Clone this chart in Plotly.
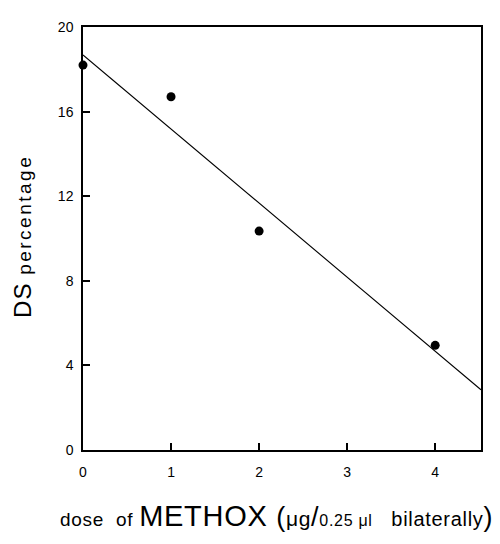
import numpy as np
import plotly.graph_objects as go

# Data
dose = [0, 1, 2, 4]
ds_percentage = [18.2, 16.7, 10.35, 4.95]
x_ticks = [0, 1, 2, 3, 4]
y_ticks = [0, 4, 8, 12, 16, 20]
x_range = [0, 4.52]
y_range = [0, 20]

# Linear regression line through the points
slope, intercept = np.polyfit(dose, ds_percentage, 1)
fit_x = np.array(x_range)
fit_y = intercept + slope * fit_x

FONT = "Liberation Sans, Arial, Helvetica, sans-serif"

fig = go.Figure()
fig.add_trace(go.Scatter(x=fit_x, y=fit_y, mode="lines",
                         line=dict(color="black", width=1.1), showlegend=False))
fig.add_trace(go.Scatter(x=dose, y=ds_percentage, mode="markers",
                         marker=dict(color="black", size=9), showlegend=False, cliponaxis=False))

axis_common = dict(showgrid=False, zeroline=False, showline=True, linecolor="black",
                   linewidth=1.5, mirror=True, ticks="inside", ticklen=7, tickwidth=1.5,
                   tickcolor="black", tickfont=dict(family=FONT, size=14, color="black"))

fig.update_xaxes(range=x_range, tickvals=x_ticks, ticktext=[str(v) for v in x_ticks],
                 ticklabelstandoff=8, **axis_common)
fig.update_yaxes(range=y_range, tickvals=y_ticks, ticktext=[str(v) for v in y_ticks],
                 ticklabelstandoff=5, **axis_common)

LS = "letter-spacing:0.7px;"
xtitle = (f"<span style='font-size:19px;{LS}'>dose&nbsp;&nbsp;of&nbsp;</span>"
          f"<span style='font-size:29px;{LS}'>METHOX&nbsp;</span>"
          f"<span style='font-size:27px;{LS}'>(</span>"
          f"<span style='font-size:21px;{LS}'>μg</span>"
          f"<span style='font-size:27px;{LS}'>/</span>"
          f"<span style='font-size:16px;{LS}'>0.25 μl</span>"
          f"<span style='font-size:20px;{LS}'>&nbsp;&nbsp;&nbsp;bilaterally</span>"
          f"<span style='font-size:27px'>)</span>")
ytitle = ("<span style='font-size:24px;letter-spacing:1px'>DS&nbsp;</span>"
          "<span style='font-size:19px;letter-spacing:2.5px'>percentage</span>")

fig.add_annotation(text=xtitle, xref="paper", yref="paper", x=0.487, y=-0.155,
                   xanchor="center", yanchor="middle", showarrow=False,
                   font=dict(family=FONT, color="black"))
fig.add_annotation(text=ytitle, xref="paper", yref="paper", x=-0.152, y=0.505,
                   xanchor="center", yanchor="middle", textangle=-90, showarrow=False,
                   font=dict(family=FONT, color="black"))

# page body has an 8px margin, so the figure is offset by 8px
fig.update_layout(width=492, height=536, plot_bgcolor="white", paper_bgcolor="white",
                  margin=dict(l=75, r=19, t=11, b=94), showlegend=False)

fig.write_html("out.html")
